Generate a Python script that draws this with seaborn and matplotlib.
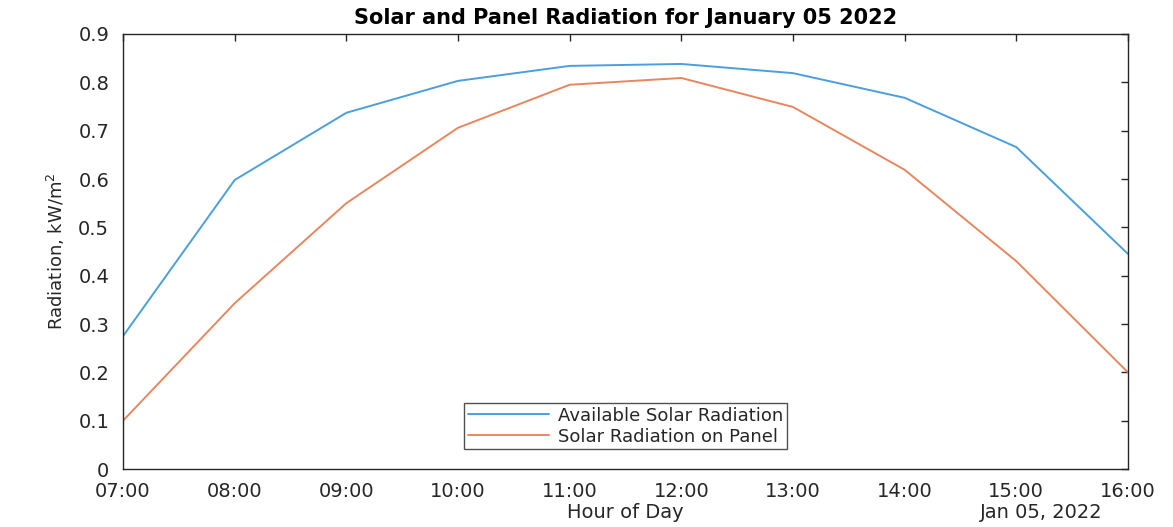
import matplotlib
matplotlib.use("Agg")
import matplotlib.pyplot as plt
import matplotlib.dates as mdates
import seaborn as sns
import pandas as pd

# Hourly radiation values (kW/m^2)
hours = ["07:00", "08:00", "09:00", "10:00", "11:00", "12:00", "13:00", "14:00", "15:00", "16:00"]
available = [0.275, 0.598, 0.737, 0.803, 0.834, 0.838, 0.819, 0.768, 0.666, 0.445]
on_panel = [0.100, 0.343, 0.550, 0.706, 0.795, 0.809, 0.749, 0.619, 0.430, 0.200]

times = pd.to_datetime(["2022-01-05 " + h for h in hours])
df = pd.DataFrame({
    "time": list(times) * 2,
    "radiation": available + on_panel,
    "series": ["Available Solar Radiation"] * len(hours) + ["Solar Radiation on Panel"] * len(hours),
})

sns.set_style("white")
plt.rcParams["font.family"] = ["DejaVu Sans"]
dark = "#262626"

fig = plt.figure(figsize=(11.73, 5.27), dpi=100)
ax = fig.add_axes([0.1049, 0.110, 0.8567, 0.8255])

sns.lineplot(data=df, x="time", y="radiation", hue="series",
             palette=["#4a9fdc", "#e8875f"], linewidth=1.4, ax=ax)

ax.set_xlim(times[0], times[-1])
ax.set_ylim(0, 0.9)
ax.set_yticks([i / 10 for i in range(10)])
ax.set_yticklabels(["0"] + [f"{i / 10:.1f}" for i in range(1, 10)])
ax.xaxis.set_major_locator(mdates.HourLocator())
ax.xaxis.set_major_formatter(mdates.DateFormatter("%H:%M"))

for s in ax.spines.values():
    s.set_color(dark)
    s.set_linewidth(1.0)
ax.tick_params(direction="in", length=5, width=1, colors=dark, labelsize=14,
               top=True, right=True, labelcolor=dark)
ax.tick_params(axis="x", pad=9)
ax.tick_params(axis="y", pad=10)

ax.set_title("Solar and Panel Radiation for January 05 2022", fontsize=15,
             fontweight="bold", color="black", pad=7)
ax.set_xlabel("Hour of Day", fontsize=14, color=dark, va="center")
ax.xaxis.set_label_coords(0.5, -0.099)
ax.set_ylabel("Radiation, kW/m$^2$", fontsize=13, color=dark, labelpad=8)
ax.text(0.975, -0.099, "Jan 05, 2022", transform=ax.transAxes, ha="right", va="center",
        fontsize=14, color=dark)

leg = ax.legend(loc="lower center", bbox_to_anchor=(0.5, 0.025), frameon=True,
                fontsize=13, fancybox=False, borderpad=0.2, labelspacing=0.15,
                handlelength=4.5, handletextpad=0.5)
leg.get_frame().set_edgecolor(dark)
leg.get_frame().set_linewidth(1.0)
for t in leg.get_texts():
    t.set_color(dark)

fig.savefig("out.png", dpi=100)
